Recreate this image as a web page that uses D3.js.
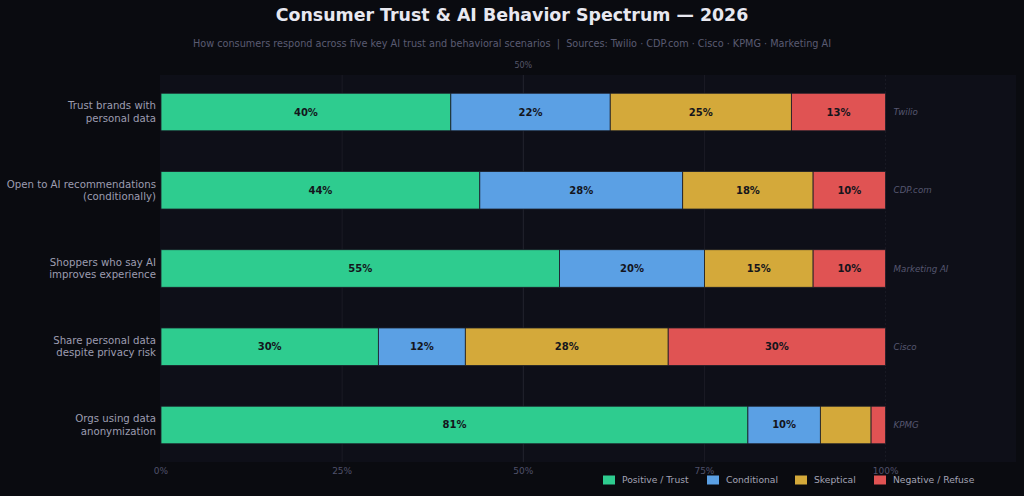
<!DOCTYPE html>
<html>
<head>
<meta charset="utf-8">
<script src="https://cdn.jsdelivr.net/npm/d3@7"></script>
<style>
  html, body { margin: 0; padding: 0; background: #0a0b10; }
  svg { display: block; font-family: "DejaVu Sans", sans-serif; }
</style>
</head>
<body>
<svg id="chart" width="1024" height="496"></svg>
<script>
// data
const categories = ['Trust brands with\npersonal data', 'Open to AI recommendations\n(conditionally)',
  'Shoppers who say AI\nimproves experience', 'Share personal data\ndespite privacy risk', 'Orgs using data\nanonymization']
const sources = ['Twilio', 'CDP.com', 'Marketing AI', 'Cisco', 'KPMG']
const seriesNames = ['Positive / Trust', 'Conditional', 'Skeptical', 'Negative / Refuse']
const positive = [40, 44, 55, 30, 81]
const conditional = [22, 28, 20, 12, 10]
const skeptical = [25, 18, 15, 28, 7]
const negative = [13, 10, 10, 30, 2]
const xTicks = [0, 25, 50, 75, 100]
const colors = ['#2ecc8f', '#5ba0e4', '#d4a93a', '#e05353']

const W = 1024, H = 496
const m = { top: 75, right: 8, bottom: 34, left: 161 }
const svg = d3.select('#chart')

svg.append('rect').attr('width', W).attr('height', H).attr('fill', '#0a0b10')

const x = d3.scaleLinear().domain([0, 118]).range([m.left, W - m.right])
const y = d3.scalePoint().domain(d3.range(categories.length)).range([m.top, H - m.bottom]).padding(0.473)
const barH = y.step() * 0.48

// panel
svg.append('rect')
  .attr('x', m.left - 1).attr('y', m.top)
  .attr('width', W - m.right - m.left + 1).attr('height', H - m.bottom - m.top)
  .attr('fill', '#0e0f18')

// grid
svg.append('g').selectAll('line')
  .data(xTicks.slice(1))
  .join('line')
    .attr('x1', d => x(d)).attr('x2', d => x(d))
    .attr('y1', m.top).attr('y2', H - m.bottom)
    .attr('stroke', d => d === 50 ? '#23242f' : '#1a1b25')
    .attr('stroke-width', 1)
    .attr('stroke-dasharray', d => d === 100 ? '2,2' : null)

// stacked data
const rows = categories.map((c, i) => ({ i, vals: [positive[i], conditional[i], skeptical[i], negative[i]] }))
const segs = []
rows.forEach(r => {
  let acc = 0
  r.vals.forEach((v, k) => {
    segs.push({ i: r.i, k, v, x0: acc, x1: acc + v })
    acc += v
  })
})

svg.append('g').selectAll('rect')
  .data(segs)
  .join('rect')
    .attr('x', d => x(d.x0))
    .attr('y', d => y(d.i) - barH / 2)
    .attr('width', d => x(d.x1) - x(d.x0))
    .attr('height', barH)
    .attr('fill', d => colors[d.k])
    .attr('stroke', '#1a1c26')
    .attr('stroke-width', 0.8)

svg.append('g').selectAll('text')
  .data(segs.filter(d => d.v >= 10))
  .join('text')
    .attr('x', d => x((d.x0 + d.x1) / 2))
    .attr('y', d => y(d.i))
    .attr('dy', '0.35em')
    .attr('text-anchor', 'middle')
    .attr('font-size', 10)
    .attr('font-weight', 'bold')
    .attr('fill', '#14151c')
    .text(d => d.v + '%')

// category labels
const cat = svg.append('g').selectAll('text')
  .data(categories)
  .join('text')
    .attr('text-anchor', 'end')
    .attr('font-size', 10.2)
    .attr('fill', '#9d9db0')
    .attr('y', (d, i) => y(i))
cat.each(function(d) {
  const lines = d.split('\n')
  const t = d3.select(this)
  lines.forEach((ln, j) => {
    t.append('tspan').attr('x', 156)
      .attr('dy', j === 0 ? (-(lines.length - 1) * 0.6 + 0.35) + 'em' : '1.2em')
      .text(ln)
  })
})

// sources
svg.append('g').selectAll('text')
  .data(sources)
  .join('text')
    .attr('x', x(100) + 8)
    .attr('y', (d, i) => y(i))
    .attr('dy', '0.35em')
    .attr('font-size', 8.7)
    .attr('font-style', 'italic')
    .attr('fill', '#565770')
    .text(d => d)

// x axis labels
svg.append('g').selectAll('text')
  .data(xTicks)
  .join('text')
    .attr('x', d => x(d))
    .attr('y', H - m.bottom + 12)
    .attr('text-anchor', 'middle')
    .attr('font-size', 9)
    .attr('fill', '#50516a')
    .text(d => d + '%')

svg.append('text')
  .attr('x', x(50)).attr('y', 68)
  .attr('text-anchor', 'middle')
  .attr('font-size', 8)
  .attr('fill', '#55566a')
  .text('50%')

// title
svg.append('text')
  .attr('x', W / 2).attr('y', 21)
  .attr('text-anchor', 'middle')
  .attr('font-size', 17.4)
  .attr('font-weight', 'bold')
  .attr('fill', '#e8e8f0')
  .text('Consumer Trust & AI Behavior Spectrum — 2026')

svg.append('text')
  .attr('x', W / 2).attr('y', 47)
  .attr('text-anchor', 'middle')
  .attr('font-size', 9.7)
  .attr('fill', '#5a5b72')
  .style('white-space', 'pre')
  .text('How consumers respond across five key AI trust and behavioral scenarios  |  Sources: Twilio · CDP.com · Cisco · KPMG · Marketing AI')

// legend
const legX = [603, 707, 795, 874]
const leg = svg.append('g').selectAll('g')
  .data(seriesNames)
  .join('g')
    .attr('transform', (d, i) => `translate(${legX[i]}, 480)`)
leg.append('rect')
  .attr('x', 0).attr('y', -4.5).attr('width', 12).attr('height', 9)
  .attr('fill', (d, i) => colors[i])
leg.append('text')
  .attr('x', 19).attr('dy', '0.35em')
  .attr('font-size', 9.2)
  .attr('fill', '#a3a3b5')
  .text(d => d)
</script>
</body>
</html>
